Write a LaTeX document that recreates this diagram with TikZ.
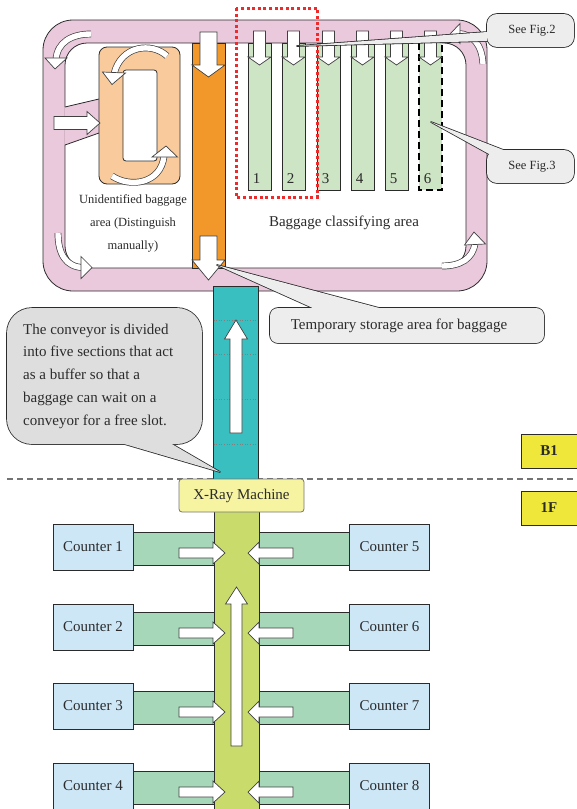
\documentclass[tikz,border=0pt]{standalone}
\usepackage{fontspec}
\setmainfont{Liberation Serif}
\definecolor{pinkband}{HTML}{EBC9DD}
\definecolor{orangecol}{HTML}{F2982A}
\definecolor{peach}{HTML}{F9CB9C}
\definecolor{lanegreen}{HTML}{CDE5C4}
\definecolor{tealc}{HTML}{3ABFC0}
\definecolor{conv}{HTML}{C9DC6B}
\definecolor{belt}{HTML}{A7D7B9}
\definecolor{counterc}{HTML}{CDE7F7}
\definecolor{xray}{HTML}{F6F3A1}
\definecolor{floorc}{HTML}{EFE83B}
\definecolor{calloutA}{HTML}{DEDEDE}
\definecolor{calloutB}{HTML}{EDEDED}
\definecolor{reddot}{HTML}{EE2A2A}
\definecolor{ink}{HTML}{2B2B2B}
\tikzset{
 outl/.style={draw=ink, line width=0.8pt},
 blk/.style={fill=white, draw=black!75, line width=0.7pt},
 curvarrow/.style={draw=black!75, line width=0.7pt, double=white, double distance=5.4pt},
 counterbox/.style={outl, fill=counterc, minimum width=80pt, minimum height=46pt, inner sep=0pt, text=ink, font=\fontsize{15}{18}\selectfont},
 floorbox/.style={outl, fill=floorc},
 txt/.style={text=ink, inner sep=0pt},
 coutl/.style={draw=ink, line width=1.6pt, line join=round},
}
\newcommand\blkv[6]{%
 \draw[blk] ({#1-#5},{#2}) -- ({#1+#5},{#2}) -- ({#1+#5},{#3}) -- ({#1+#6},{#3}) -- ({#1},{#4}) -- ({#1-#6},{#3}) -- ({#1-#5},{#3}) -- cycle;}
\newcommand\blkh[6]{%
 \draw[blk] ({#2},{#1-#5}) -- ({#3},{#1-#5}) -- ({#3},{#1-#6}) -- ({#4},{#1}) -- ({#3},{#1+#6}) -- ({#3},{#1+#5}) -- ({#2},{#1+#5}) -- cycle;}
\begin{document}
\begin{tikzpicture}[x=1pt,y=-1pt]
\useasboundingbox (0,0) rectangle (576,809);

% ---------- B1 area ----------
\draw[outl, fill=pinkband, rounded corners=30pt] (43,20) rectangle (487,291);
\draw[outl, fill=white, rounded corners=22pt] (65,43) rectangle (466,268);

% entry into unidentified area
\fill[pinkband] (64.3,107) -- (99,99) -- (99,133) -- (64.3,145) -- cycle;
\draw[outl] (65,107) -- (99,99);
\draw[outl] (65,145) -- (99,133);

% unidentified baggage area
\draw[outl, fill=peach, rounded corners=8pt] (99,47) rectangle (180,184);
\draw[outl, fill=white, rounded corners=3pt] (123,70) rectangle (157,161);

% temporary storage column
\draw[outl, fill=orangecol] (192,43) rectangle (225,268);

% lanes
\foreach \lx in {248,282,317,351,385}
  \draw[outl, fill=lanegreen] (\lx,43) rectangle ({\lx+23},190);
\fill[lanegreen] (419,43) rectangle (442,190);
\draw[black, line width=2.6pt, dash pattern=on 7pt off 4pt] (419,43) -- (419,190) -- (442,190) -- (442,43);
\foreach \lx/\n in {248/1,282/2,317/3,351/4,385/5,419/6}
  \node[txt, font=\fontsize{15}{18}\selectfont] at ({\lx+8.5},179) {\n};
\foreach \lx in {248,282,317,351,385,419}
  {\blkv{\lx+11.5}{31}{57}{65}{6}{11.5}}

% orange column arrows
\blkv{208.5}{32}{65}{77}{8.5}{16.5}
\blkv{208.5}{236}{260}{280}{8.5}{16.5}

% entry arrow
\blkh{123}{54}{87}{100}{6.5}{11.5}

% corner curved arrows
\draw[curvarrow] (91,34) .. controls (72,34) and (57,42) .. (56,60);
\draw[blk] (45,58) -- (67,58) -- (55,69) -- cycle;
\draw[curvarrow] (58,233) .. controls (58,254) and (66,267) .. (83,267.5);
\draw[blk] (81,256.5) -- (81,278.5) -- (92,267.5) -- cycle;
\draw[curvarrow] (483,64) .. controls (482,45) and (473,34) .. (458,33.5);
\draw[blk] (460,23.5) -- (460,43.5) -- (450.5,33.5) -- cycle;
\draw[curvarrow] (442,266) .. controls (460,266) and (473,259) .. (475,243);
\draw[blk] (464.5,245) -- (485.5,244) -- (474,232) -- cycle;

% peach circulation arrows
\draw[curvarrow] (167,56) .. controls (152,42) and (121,45) .. (114,74);
\draw[blk] (102.5,72) -- (125.5,73) -- (112,84.5) -- cycle;
\draw[curvarrow] (112,176) .. controls (130,188) and (161,184) .. (164,156);
\draw[blk] (152,157) -- (177.5,157) -- (166,146) -- cycle;

% texts
\node[txt, align=center, font=\fontsize{12.5}{23}\selectfont] (unid) at (133,223) {Unidentified baggage\\area (Distinguish\\manually)};
\node[txt, font=\fontsize{15}{18}\selectfont] (bca) at (344,223) {Baggage classifying area};

% red dotted frame
\draw[reddot, line width=3pt, dash pattern=on 3pt off 2.6pt] (236,8) rectangle (317,197);

% ---------- callouts ----------
% See Fig.2
\draw[coutl, rounded corners=10pt] (487,14) rectangle (574,47);
\draw[coutl] (297,46) -- (487,32) -- (487,41) -- cycle;
\fill[calloutB, rounded corners=10pt] (487,14) rectangle (574,47);
\fill[calloutB] (297,46) -- (487,32) -- (487,41) -- cycle;
\node[txt, font=\fontsize{12.5}{15}\selectfont] (f2) at (532,31) {See Fig.2};
% See Fig.3
\draw[coutl, rounded corners=10pt] (487,150) rectangle (574,183);
\draw[coutl] (431,122) -- (489,154) -- (506,151) -- cycle;
\fill[calloutB, rounded corners=10pt] (487,150) rectangle (574,183);
\fill[calloutB] (431,122) -- (489,154) -- (506,151) -- cycle;
\node[txt, font=\fontsize{12.5}{15}\selectfont] (f3) at (532,167) {See Fig.3};

% teal conveyor
\draw[black!55, line width=1.2pt, dash pattern=on 6pt off 4pt] (7,479) -- (576,479);
\draw[outl, fill=tealc] (213,286) rectangle (258,482);
\foreach \yy in {320,354,399,444}
  \draw[black!50, dotted, line width=0.6pt] (213.5,\yy) -- (257.5,\yy);
\blkv{236}{433}{339}{320}{6}{11.5}

% Temporary storage callout
\draw[coutl, rounded corners=8pt] (270,308) rectangle (544,343);
\draw[coutl] (217,265) -- (315,309) -- (383,309) -- cycle;
\fill[calloutB, rounded corners=8pt] (270,308) rectangle (544,343);
\fill[calloutB] (217,265) -- (315,309) -- (383,309) -- cycle;
\node[txt, font=\fontsize{15}{18}\selectfont] (tmp) at (399,326) {Temporary storage area for baggage};

% conveyor callout
\draw[coutl, rounded corners=25pt] (7,308) rectangle (202,444);
\draw[coutl] (121,443) -- (220,472) -- (170,443) -- cycle;
\fill[calloutA, rounded corners=25pt] (7,308) rectangle (202,444);
\fill[calloutA] (121,443) -- (220,472) -- (170,443) -- cycle;
\node[txt, anchor=west, align=left, font=\fontsize{15}{22.75}\selectfont] (cnote) at (23,376) {The conveyor is divided\\into five sections that act\\as a buffer so that a\\baggage can wait on a\\conveyor for a free slot.};

% floor labels
\draw[floorbox] (521,434) rectangle (582,468);
\node[txt, font=\bfseries\fontsize{15}{18}\selectfont] (b1) at (549,451) {B1};
\draw[floorbox] (521,491) rectangle (582,525);
\node[txt, font=\bfseries\fontsize{15}{18}\selectfont] (f1) at (549,508) {1F};

% ---------- 1F ----------
\foreach \t in {524,604,683,763} {
  \draw[outl, fill=belt] (133,{\t+8}) rectangle (214,{\t+41});
  \draw[outl, fill=belt] (259,{\t+8}) rectangle (350,{\t+41});
}
\draw[outl, fill=conv] (214,505) rectangle (259,815);
\foreach \t in {524,604,683,763} {
  \blkh{\t+29}{179}{213}{225}{5}{11}
  \blkh{\t+29}{293}{259}{248}{5}{11}
}
\blkv{236.5}{746}{604}{587}{5.5}{11}

\node[draw=black!55, line width=0.8pt, fill=xray, rounded corners=3pt, minimum width=125pt, minimum height=33pt, inner sep=0pt, text=ink, font=\fontsize{15}{18}\selectfont] (xray) at (241.5,495.5) {X-Ray Machine};

\node[counterbox] (c1) at (93,547) {Counter 1};
\node[counterbox] (c2) at (93,627) {Counter 2};
\node[counterbox] (c3) at (93,706) {Counter 3};
\node[counterbox] (c4) at (93,786) {Counter 4};
\node[counterbox] (c5) at (389.5,547) {Counter 5};
\node[counterbox] (c6) at (389.5,627) {Counter 6};
\node[counterbox] (c7) at (389.5,706) {Counter 7};
\node[counterbox] (c8) at (389.5,786) {Counter 8};
\end{tikzpicture}
\end{document}
